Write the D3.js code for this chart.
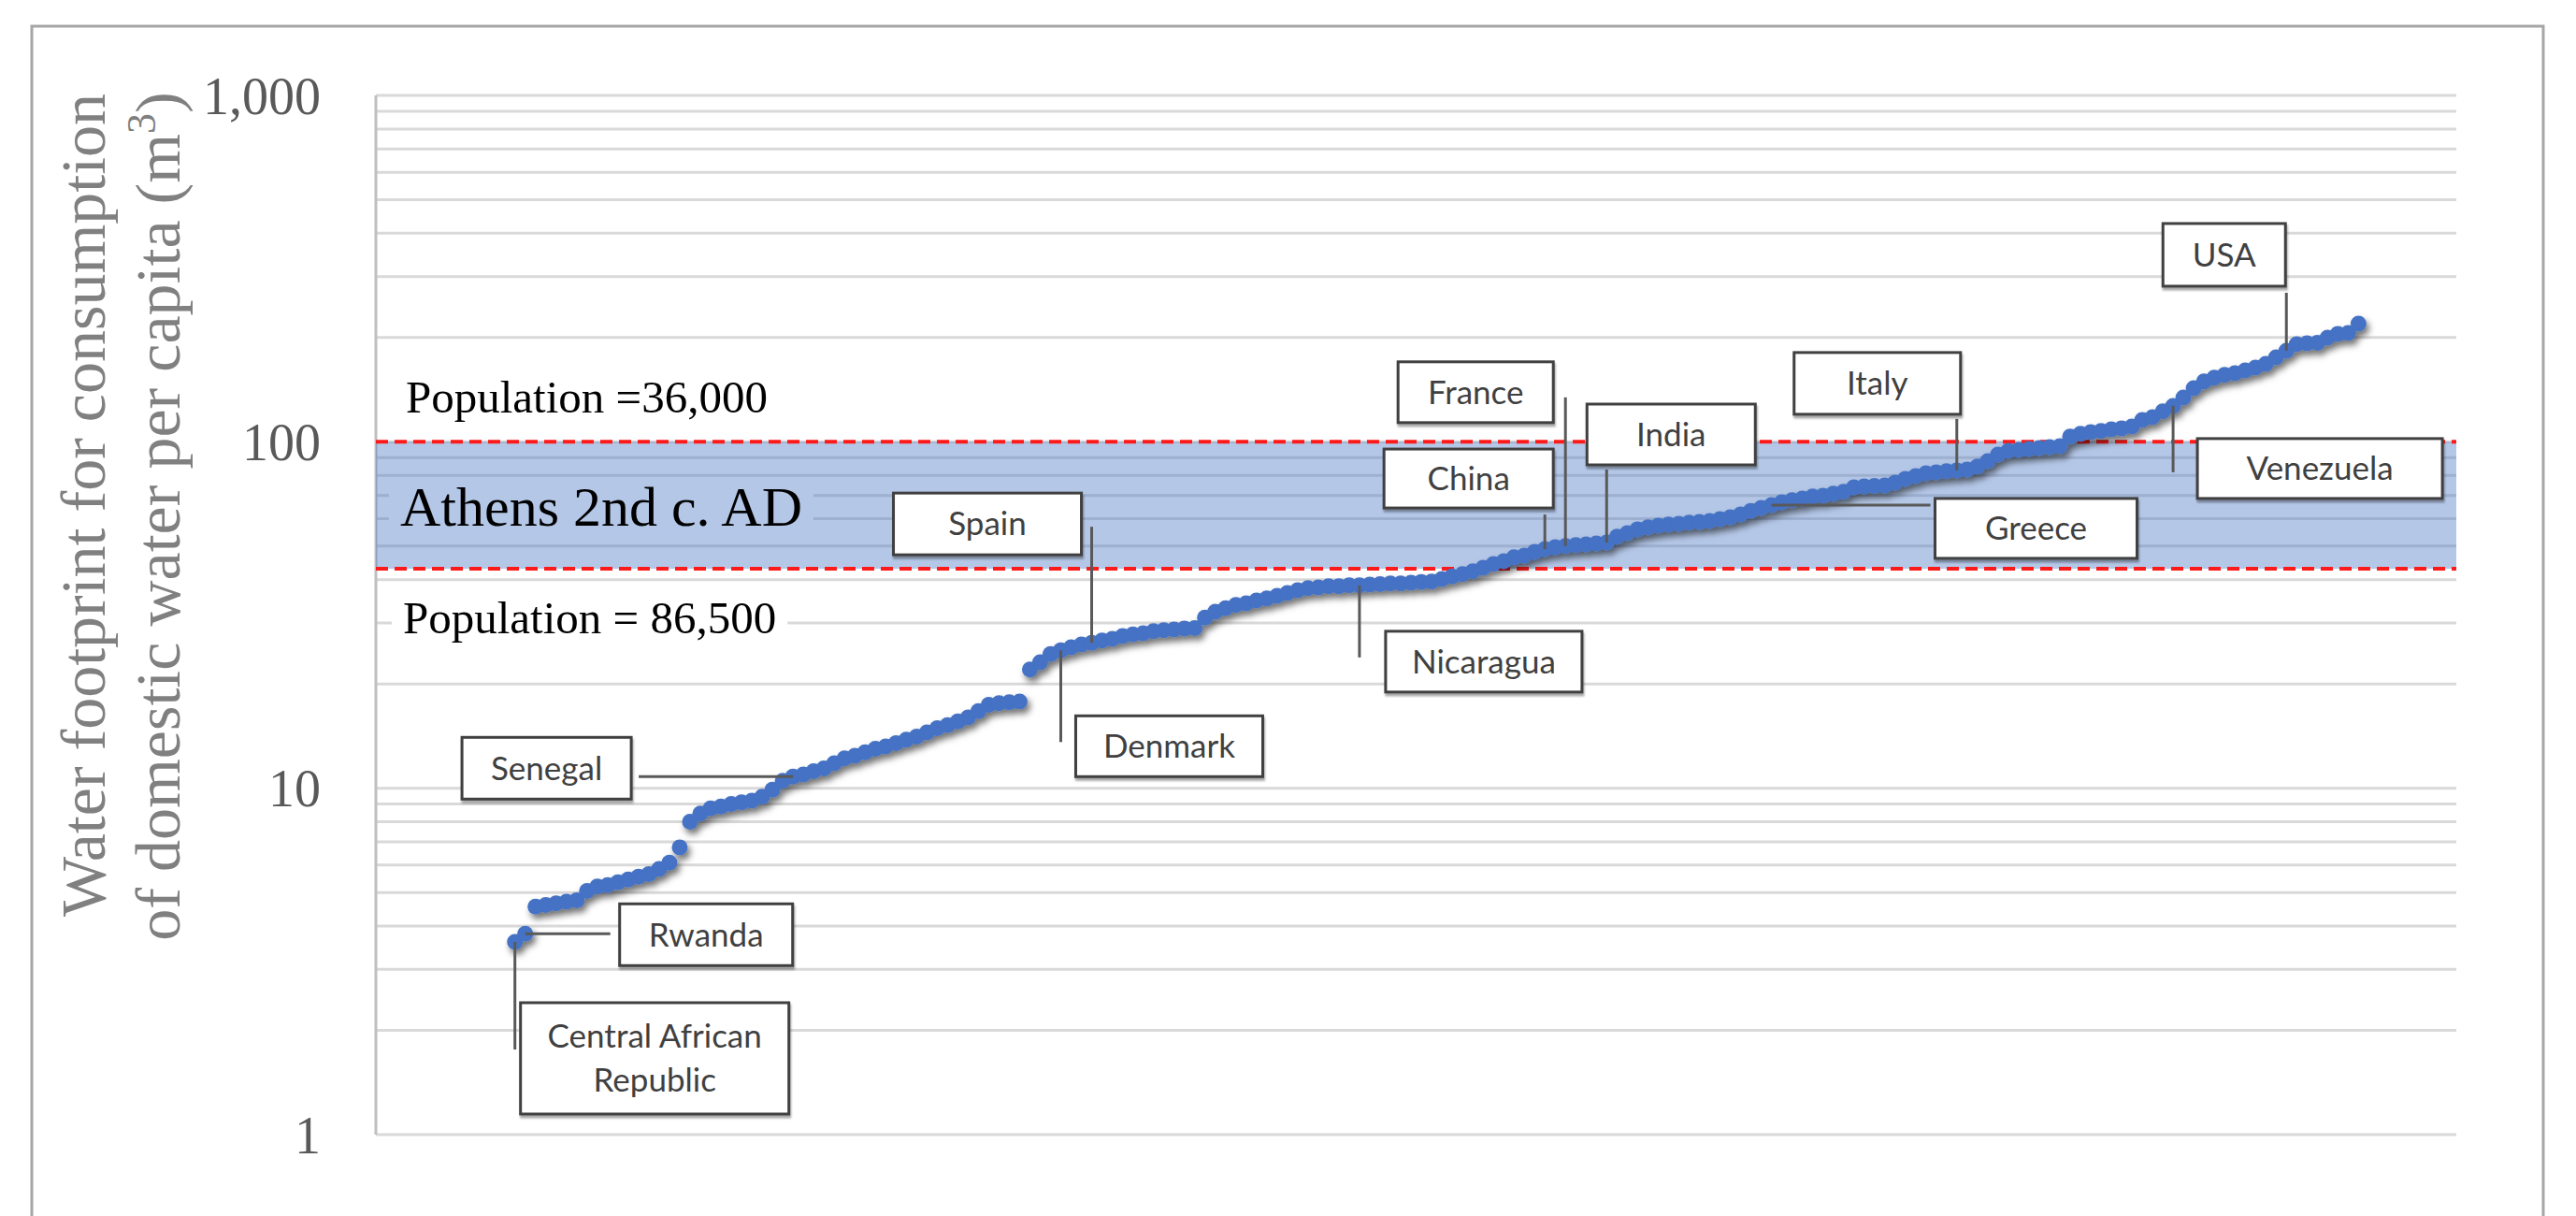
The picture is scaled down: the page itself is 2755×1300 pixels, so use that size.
<!DOCTYPE html>
<html>
<head>
<meta charset="utf-8">
<script src="https://cdn.jsdelivr.net/npm/d3@7"></script>
<style>
  html, body { margin: 0; padding: 0; background: #fff; overflow: hidden; }
  svg { display: block; }
</style>
</head>
<body>
<svg id="chart" width="2755" height="1300"></svg>
<script>
// Domestic water footprint per capita (m3 / yr), one value per country, sorted ascending
const footprint = [
  3.6, 3.8, 4.55, 4.6, 4.65, 4.7, 4.75, 5.05, 5.2, 5.25,
  5.35, 5.45, 5.55, 5.65, 5.85, 6.1, 6.75, 8.0, 8.45, 8.75,
  8.85, 9.0, 9.1, 9.2, 9.45, 9.9, 10.5, 10.8, 10.95, 11.2,
  11.4, 11.8, 12.2, 12.4, 12.7, 13.0, 13.2, 13.5, 13.8, 14.1,
  14.5, 14.9, 15.2, 15.6, 16.0, 16.7, 17.4, 17.6, 17.7, 17.8,
  22.0, 23.1, 24.4, 25.0, 25.5, 26.0, 26.3, 26.7, 27.0, 27.5,
  27.8, 28.0, 28.4, 28.6, 28.7, 28.9, 29.0, 31.1, 32.3, 33.1,
  33.8, 34.2, 34.8, 35.3, 35.9, 36.6, 37.3, 37.8, 38.0, 38.3,
  38.3, 38.5, 38.5, 38.7, 38.8, 39.0, 39.0, 39.2, 39.4, 39.5,
  40.2, 40.9, 41.5, 42.3, 43.3, 44.4, 45.2, 46.4, 46.9, 48.1,
  49.0, 49.6, 50.0, 50.3, 50.6, 50.9, 51.2, 53.2, 54.5, 55.9,
  56.6, 57.3, 57.7, 58.0, 58.4, 58.7, 59.1, 59.8, 60.6, 61.7,
  63.2, 64.4, 65.7, 66.9, 67.8, 68.6, 69.5, 69.9, 70.8, 71.7,
  73.9, 74.4, 74.6, 74.8, 76.2, 78.2, 79.6, 81.1, 81.6, 82.2,
  82.7, 83.2, 84.8, 88.0, 91.9, 94.2, 94.8, 95.4, 96.0, 96.6,
  97.2, 103.5, 105.4, 106.7, 107.4, 108.7, 109.4, 110.7, 115.6, 117.8,
  122.4, 127.0, 134.3, 142.9, 149.3, 153.1, 156.0, 157.8, 160.8, 163.8,
  167.9, 175.4, 183.2, 191.4, 192.6, 193.0, 199.9, 205.0, 206.0, 219.5
];

// Highlighted countries and their rank in the sorted series
const labelNames = ["Central African|Republic", "Rwanda", "Senegal", "Denmark", "Spain",
  "Nicaragua", "China", "France", "India", "Greece", "Italy", "Venezuela", "USA"];
const labelRanks = [0, 1, 27, 53, 56, 82, 100, 102, 106, 122, 140, 161, 172];

// Y axis (log scale)
const yTickValues = [1, 10, 100, 1000];
const yTickLabels = ["1", "10", "100", "1,000"];
const yTitleLines = ["Water footprint for consumption", "of domestic water per capita (m"];

// Athens 2nd c. AD range and its annotations
const athensRange = [43, 100];
const athensLabel = "Athens 2nd c. AD";
const popHigh = "Population =36,000";
const popLow = "Population = 86,500";

// ---- layout ----
const plot = { left: 402, right: 2627, top: 102, bottom: 1213 };

// Callout boxes: offset of box from its point, box size, leader direction & length
const calloutLayout = [
  { dx: 6,    dy: 65,   w: 287, h: 119, dir: "v", len: 115 },
  { dx: 101,  dy: -32,  w: 185, h: 66,  dir: "h", len: 91 },
  { dx: -354, dy: -42,  w: 181, h: 66,  dir: "h", len: -165 },
  { dx: 16,   dy: 70,   w: 200, h: 65,  dir: "v", len: 98 },
  { dx: -212, dy: -160, w: 201, h: 66,  dir: "v", len: -124 },
  { dx: 28,   dy: 49,   w: 210, h: 65,  dir: "v", len: 77 },
  { dx: -172, dy: -107, w: 181, h: 63,  dir: "v", len: -37 },
  { dx: -179, dy: -197, w: 166, h: 65,  dir: "v", len: -159 },
  { dx: -21,  dy: -148, w: 180, h: 65,  dir: "v", len: -78 },
  { dx: 175,  dy: -7,   w: 216, h: 64,  dir: "h", len: 170 },
  { dx: -174, dy: -126, w: 178, h: 66,  dir: "v", len: -55 },
  { dx: 26,   dy: 35,   w: 262, h: 64,  dir: "v", len: 71 },
  { dx: -132, dy: -136, w: 131, h: 67,  dir: "v", len: -62 }
];

const svg = d3.select("#chart");

const defs = svg.append("defs");
const sh = defs.append("filter").attr("id", "dotShadow")
  .attr("x", "-5%").attr("y", "-20%").attr("width", "110%").attr("height", "140%");
sh.append("feDropShadow").attr("dx", 3).attr("dy", 5).attr("stdDeviation", 3.5)
  .attr("flood-color", "#000").attr("flood-opacity", 0.55);
const bs = defs.append("filter").attr("id", "boxShadow")
  .attr("x", "-10%").attr("y", "-20%").attr("width", "120%").attr("height", "150%");
bs.append("feDropShadow").attr("dx", 1).attr("dy", 3).attr("stdDeviation", 1.2)
  .attr("flood-color", "#000").attr("flood-opacity", 0.35);

// Outer chart frame
svg.append("rect")
  .attr("x", 34).attr("y", 28).attr("width", 2686).attr("height", 1320)
  .attr("fill", "#fff").attr("stroke", "#a6a6a6").attr("stroke-width", 3);

const x = d3.scaleLinear().domain([-13.5, 188.5]).range([plot.left, plot.right]);
const y = d3.scaleLog().domain([1, 1000]).range([plot.bottom, plot.top]);

// Gridlines: every integer multiple within each decade
const gridVals = [];
[1, 10, 100].forEach(d => { for (let k = 1; k <= 9; k++) gridVals.push(k * d); });
gridVals.push(1000);
svg.append("g").selectAll("line").data(gridVals).join("line")
  .attr("x1", plot.left).attr("x2", plot.right)
  .attr("y1", d => y(d)).attr("y2", d => y(d))
  .attr("stroke", "#d9d9d9").attr("stroke-width", 3);

// Vertical axis line
svg.append("line")
  .attr("x1", plot.left).attr("x2", plot.left)
  .attr("y1", y(1000)).attr("y2", y(1))
  .attr("stroke", "#bfbfbf").attr("stroke-width", 3);

// Athens band
svg.append("rect")
  .attr("x", plot.left).attr("width", plot.right - plot.left)
  .attr("y", y(athensRange[1])).attr("height", y(athensRange[0]) - y(athensRange[1]))
  .attr("fill", "#4472c4").attr("fill-opacity", 0.4);

// Band annotation texts, each sitting on its own opaque backing
const serif = "'Liberation Serif', 'Times New Roman', serif";
function bandText(txt, tx, ty, fs, bg) {
  const g = svg.append("g");
  const r = g.append("rect");
  const t = g.append("text").attr("x", tx).attr("y", ty)
    .attr("font-family", serif).attr("font-size", fs).attr("fill", "#000").text(txt);
  const bb = t.node().getBBox();
  r.attr("x", bb.x - 12).attr("width", bb.width + 24)
    .attr("y", ty - 0.76 * fs).attr("height", 0.9 * fs).attr("fill", bg);
}
bandText(athensLabel, 428, y(athensRange[0]) - 46, 60, "rgb(180,199,231)");
bandText(popLow, 431, y(athensRange[0]) + 69, 49, "#fff");
bandText(popHigh, 434, y(athensRange[1]) - 31, 49, "#fff");

// Red dashed limits
svg.append("g").selectAll("line").data(athensRange).join("line")
  .attr("x1", plot.left).attr("x2", plot.right)
  .attr("y1", d => y(d)).attr("y2", d => y(d))
  .attr("stroke", "#ff1a1a").attr("stroke-width", 4)
  .attr("stroke-dasharray", "13 7");

// Tick labels
svg.append("g").selectAll("text").data(yTickValues).join("text")
  .attr("x", 343).attr("y", d => y(d)).attr("dy", "0.35em")
  .attr("text-anchor", "end")
  .attr("font-family", serif).attr("font-size", 56).attr("fill", "#595959")
  .text((d, i) => yTickLabels[i]);

// Axis title (two lines)
svg.append("text")
  .attr("transform", "translate(112,540) rotate(-90)")
  .attr("text-anchor", "middle")
  .attr("font-family", serif).attr("font-size", 68).attr("fill", "#808080")
  .text(yTitleLines[0]);
const t2 = svg.append("text")
  .attr("transform", "translate(192,552) rotate(-90)")
  .attr("text-anchor", "middle")
  .attr("font-family", serif).attr("font-size", 68).attr("fill", "#808080");
t2.append("tspan").text(yTitleLines[1]);
t2.append("tspan").attr("font-size", 44).attr("dy", -26).text("3");
t2.append("tspan").attr("dy", 26).text(")");

// Data points
svg.append("g").attr("filter", "url(#dotShadow)")
  .selectAll("circle").data(footprint).join("circle")
  .attr("cx", (d, i) => x(i)).attr("cy", d => y(d)).attr("r", 8.5)
  .attr("fill", "#4472c4");

// Callouts
const sans = "Lato, 'Open Sans', sans-serif";
const cg = svg.append("g");
labelNames.forEach((name, k) => {
  const idx = labelRanks[k];
  const px = x(idx), py = y(footprint[idx]);
  const L = calloutLayout[k];
  const lx2 = L.dir === "h" ? px + L.len : px;
  const ly2 = L.dir === "v" ? py + L.len : py;
  cg.append("line")
    .attr("x1", px).attr("y1", py).attr("x2", lx2).attr("y2", ly2)
    .attr("stroke", "#595959").attr("stroke-width", 3);
  const bx = px + L.dx, by = py + L.dy;
  cg.append("rect")
    .attr("x", bx).attr("y", by).attr("width", L.w).attr("height", L.h)
    .attr("fill", "#fff").attr("stroke", "#404040").attr("stroke-width", 3)
    .attr("filter", "url(#boxShadow)");
  const lines = name.split("|");
  const lh = 47;
  lines.forEach((ln, j) => {
    cg.append("text")
      .attr("x", bx + L.w / 2)
      .attr("y", by + L.h / 2 + (j - (lines.length - 1) / 2) * lh)
      .attr("dy", "0.35em")
      .attr("text-anchor", "middle")
      .attr("font-family", sans).attr("font-size", 35).attr("fill", "#404040")
      .text(ln);
  });
});
</script>
</body>
</html>
